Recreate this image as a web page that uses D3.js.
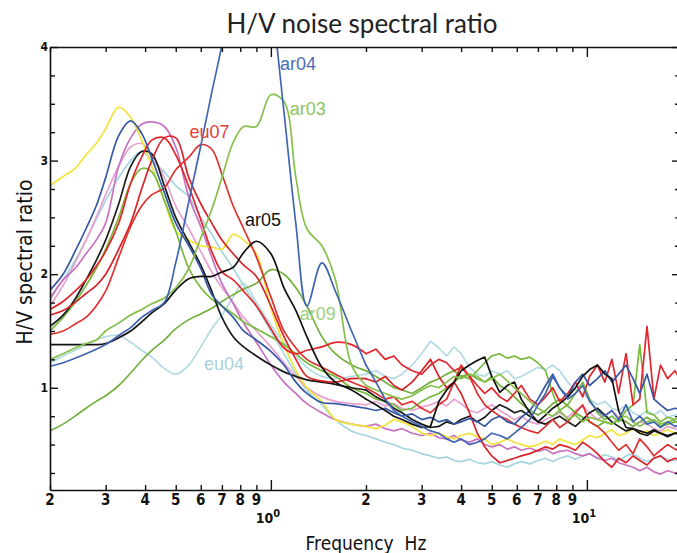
<!DOCTYPE html>
<html><head><meta charset="utf-8">
<script src="https://cdn.jsdelivr.net/npm/d3@7"></script>
<style>body{margin:0;background:#fff}svg{display:block}</style>
</head><body><svg id="c" width="677" height="553"></svg>
<script>
// ---------- data ----------
const freqs = [0.2,0.22,0.24,0.26,0.28,0.3,0.33,0.36,0.39,0.42,0.46,0.5,0.55,0.6,0.65,0.7,0.76,0.82,0.9,1.0,1.1,1.2,1.3,1.45,1.6,1.8,
  2.0,2.15,2.3,2.45,2.6,2.8,3.0,3.2,3.4,3.6,3.8,4.0,4.25,4.5,4.75,5.0,5.3,5.6,5.9,6.2,6.6,7.0,7.4,7.8,8.2,8.7,9.2,9.7,10.2,10.8,11.4,12.0,12.6,13.3,14.0,14.7,15.5,16.3,17.1,18.0,19.0,20.0];

const yellowVals = [2.78,2.86,2.93,3.05,3.15,3.28,3.47,3.38,3.18,2.95,2.65,2.38,2.3,2.25,2.24,2.22,2.35,2.3,2.18,1.7,1.38,1.15,1.0,0.88,0.72,0.68,
  0.66,0.64,0.67,0.72,0.7,0.66,0.6,0.58,0.6,0.57,0.55,0.58,0.6,0.57,0.55,0.5,0.52,0.55,0.52,0.5,0.48,0.5,0.53,0.5,0.55,0.52,0.5,0.54,0.58,0.56,0.6,0.63,0.58,0.6,0.64,0.6,0.62,0.58,0.6,0.63,0.6,0.6];
const blueAVals = [1.86,2.0,2.2,2.4,2.6,2.85,3.22,3.35,3.24,3.02,2.72,2.45,2.25,2.05,1.82,1.72,1.62,1.5,1.42,1.32,1.2,1.05,0.95,0.87,0.86,0.84,
  0.82,0.8,0.82,0.78,0.75,0.77,0.72,0.74,0.7,0.72,0.68,0.7,0.73,0.7,0.66,0.72,0.75,0.7,0.68,0.74,0.8,0.9,1.02,1.12,1.0,0.92,1.05,1.12,1.02,1.08,1.15,1.05,1.12,1.2,1.08,0.95,1.12,0.9,0.85,0.8,0.82,0.8];
const orchidVals = [1.78,1.95,2.05,2.18,2.3,2.45,2.95,3.2,3.32,3.34,3.3,3.12,2.68,2.42,2.15,1.92,1.74,1.57,1.4,1.2,1.05,0.95,0.86,0.78,0.72,0.68,
  0.66,0.68,0.64,0.62,0.64,0.6,0.58,0.6,0.56,0.55,0.58,0.54,0.52,0.55,0.5,0.48,0.5,0.46,0.48,0.45,0.47,0.44,0.46,0.42,0.44,0.45,0.42,0.4,0.42,0.38,0.36,0.38,0.34,0.32,0.3,0.27,0.3,0.26,0.24,0.27,0.25,0.26];
const pinkVals = [1.72,1.9,2.1,2.3,2.5,2.7,2.95,3.12,3.15,3.05,2.85,2.6,2.4,2.2,2.02,1.88,1.75,1.62,1.5,1.36,1.22,1.1,1.0,0.92,0.88,0.86,
  0.85,0.88,0.84,0.86,0.82,0.8,0.83,0.85,0.88,0.84,0.9,0.86,0.8,0.78,0.82,0.85,0.8,0.76,0.72,0.75,0.7,0.68,0.72,0.75,0.78,0.74,0.8,0.84,0.78,0.72,0.76,0.8,0.74,0.7,0.66,0.7,0.68,0.64,0.62,0.66,0.64,0.62];
const paleBlueVals = [1.8,1.95,2.12,2.3,2.48,2.65,2.85,3.0,3.08,3.0,2.9,2.78,2.68,2.5,2.35,2.2,2.05,1.9,1.72,1.5,1.3,1.12,0.98,0.85,0.72,0.62,
  0.58,0.55,0.52,0.5,0.47,0.45,0.42,0.4,0.38,0.39,0.36,0.35,0.37,0.34,0.33,0.35,0.32,0.3,0.33,0.35,0.33,0.36,0.38,0.35,0.38,0.4,0.37,0.4,0.42,0.38,0.41,0.39,0.36,0.4,0.42,0.38,0.35,0.38,0.4,0.37,0.36,0.38];
const blackAVals = [1.54,1.64,1.78,1.95,2.12,2.3,2.62,2.95,3.08,3.06,2.78,2.5,2.28,2.08,1.85,1.62,1.45,1.36,1.28,1.2,1.14,1.1,1.07,1.05,1.03,1.0,
  0.98,0.92,0.88,0.82,0.78,0.72,0.68,0.65,0.66,0.7,0.68,0.72,0.75,0.7,0.74,0.8,0.85,0.82,0.78,0.8,0.75,0.7,0.68,0.72,0.75,0.7,0.66,0.72,0.78,0.82,0.76,0.7,0.66,0.62,0.64,0.6,0.58,0.62,0.6,0.57,0.6,0.58];
const greenAVals = [1.5,1.62,1.75,1.9,2.05,2.22,2.5,2.8,2.93,2.9,2.65,2.38,2.05,1.88,1.78,1.72,1.65,1.58,1.52,1.45,1.38,1.3,1.22,1.15,1.1,1.0,
  0.95,0.9,0.88,0.85,0.8,0.82,0.88,0.92,0.95,1.0,1.05,1.1,1.08,1.15,1.22,1.28,1.3,1.26,1.28,1.25,1.27,1.22,1.15,0.95,0.8,0.85,0.95,1.05,0.9,0.78,0.72,0.75,0.7,0.8,0.85,1.38,0.78,0.76,0.7,0.74,0.72,0.75];
const redAVals = [1.69,1.76,1.85,1.95,2.07,2.2,2.45,2.8,3.03,3.18,3.2,3.05,2.77,2.48,2.2,2.02,1.95,1.85,1.72,1.52,1.35,1.3,1.33,1.36,1.4,1.38,
  1.3,1.34,1.25,1.28,1.2,1.15,1.12,1.2,1.25,1.22,1.15,1.18,1.1,1.02,0.95,1.0,0.92,0.88,0.95,1.02,0.9,0.85,0.92,1.0,0.88,0.95,1.05,0.92,1.1,1.2,1.05,1.25,0.95,1.3,0.85,0.9,1.54,0.9,1.2,1.08,1.15,1.05];
const redBVals = [1.64,1.68,1.75,1.83,1.9,2.0,2.22,2.45,2.75,3.0,3.2,3.2,2.85,2.62,2.45,2.3,2.18,2.08,1.98,1.72,1.45,1.25,1.1,1.06,1.05,1.08,
  1.08,1.05,1.1,1.02,0.98,1.05,1.15,1.25,1.1,1.0,1.05,0.95,0.78,0.6,0.48,0.4,0.34,0.36,0.38,0.4,0.42,0.45,0.48,0.46,0.5,0.48,0.45,0.52,0.48,0.42,0.35,0.3,0.38,0.34,0.4,0.36,0.32,0.38,0.4,0.35,0.38,0.36];
const eu07Vals = [1.47,1.5,1.56,1.62,1.72,1.85,2.15,2.42,2.6,2.7,2.76,2.92,3.03,3.14,3.1,2.88,2.6,2.4,2.15,1.8,1.5,1.35,1.25,1.18,1.12,1.05,
  1.0,0.95,0.9,0.92,0.85,0.88,0.82,0.78,0.85,0.9,1.05,1.2,1.1,0.95,0.85,0.8,0.75,0.72,0.68,0.65,0.62,0.6,0.66,0.72,0.65,0.7,0.78,0.85,0.7,0.66,0.6,0.52,0.45,0.5,0.42,0.55,0.48,0.4,0.45,0.5,0.46,0.44];
const ar04Vals = [1.19,1.22,1.26,1.3,1.34,1.38,1.46,1.53,1.62,1.68,1.75,2.1,2.64,3.13,3.6,4.02,4.6,5.2,5.4,4.48,3.43,2.44,1.72,2.1,1.85,1.5,
  1.2,1.05,0.9,0.8,0.75,0.7,0.66,0.62,0.6,0.55,0.52,0.55,0.5,0.52,0.55,0.6,0.58,0.55,0.6,0.65,0.72,0.85,0.95,1.1,1.0,0.9,0.95,1.02,0.88,0.8,0.75,0.8,0.72,0.85,0.7,0.75,0.68,0.7,0.65,0.7,0.66,0.68];
const ar03Vals = [1.25,1.3,1.35,1.39,1.42,1.5,1.57,1.64,1.69,1.74,1.79,1.88,2.05,2.32,2.57,2.85,3.16,3.3,3.3,3.58,3.52,2.85,2.4,2.25,1.95,1.2,
  1.02,0.98,0.95,0.92,0.9,0.93,0.98,1.02,1.0,1.05,1.1,1.08,1.12,1.1,1.05,1.08,1.12,1.06,1.0,0.95,0.88,0.82,0.78,0.75,0.8,0.72,0.76,0.7,0.74,0.72,0.7,0.68,0.72,0.75,0.7,0.66,0.7,0.72,0.68,0.7,0.72,0.74];
const ar05Vals = [1.38,1.38,1.38,1.38,1.38,1.39,1.44,1.5,1.58,1.66,1.74,1.86,1.96,1.98,1.98,2.02,2.06,2.19,2.29,2.18,1.88,1.68,1.45,1.18,1.05,0.98,
  0.9,0.85,0.8,0.75,0.72,0.68,0.65,0.66,0.88,0.98,1.05,1.15,1.2,1.24,1.27,1.1,0.96,1.02,1.05,0.9,0.78,0.7,0.76,0.82,0.86,0.92,1.0,1.1,1.16,1.2,1.12,1.08,0.8,0.65,0.64,0.62,0.6,0.63,0.6,0.58,0.6,0.6];
const eu04Vals = [1.22,1.28,1.33,1.38,1.42,1.45,1.46,1.4,1.33,1.27,1.17,1.12,1.2,1.36,1.52,1.64,1.8,1.92,1.75,1.55,1.4,1.28,1.18,1.1,1.08,1.1,
  1.12,1.15,1.1,1.08,1.12,1.2,1.3,1.41,1.35,1.28,1.36,1.3,1.18,1.12,1.1,1.15,1.12,1.15,1.08,1.1,1.14,1.18,1.16,1.2,1.15,1.05,0.98,0.95,0.9,0.85,0.88,0.82,0.8,0.85,0.78,0.75,0.8,0.76,0.8,0.74,0.76,0.75];
const ar09Vals = [0.62,0.68,0.75,0.82,0.88,0.93,1.02,1.13,1.24,1.33,1.42,1.52,1.6,1.65,1.7,1.76,1.82,1.87,1.92,2.04,2.0,1.88,1.72,1.45,1.3,1.2,
  1.15,1.1,1.05,1.0,0.98,0.95,1.0,1.05,1.08,1.12,1.15,1.1,1.12,1.08,1.05,1.1,1.02,0.98,0.92,0.86,0.8,0.76,0.8,0.86,0.9,0.84,0.78,0.74,0.7,0.66,0.7,0.68,0.72,0.7,0.66,0.7,0.74,0.7,0.66,0.68,0.7,0.7];

const seriesNames  = ['eu04','paleBlue','pink','orchid','yellow','greenA','ar09','blackA','redB','redA','eu07','blueA','ar05','ar03','ar04'];
const seriesValues = [eu04Vals,paleBlueVals,pinkVals,orchidVals,yellowVals,greenAVals,ar09Vals,blackAVals,redBVals,redAVals,eu07Vals,blueAVals,ar05Vals,ar03Vals,ar04Vals];
const seriesColors = ['#b3dbe3','#a6d5df','#e6a3cf','#c772c1','#f2e43a','#77bb3c','#72b03c','#1a1a1a','#d9242b','#e2262c','#e0302f','#3557a6','#111111','#86c04a','#4165b1'];

const labelTexts  = ['ar04','ar03','eu07','ar05','ar09','eu04'];
const labelFreqs  = [1.068,1.148,0.553,0.828,1.235,0.614];
const labelRatios = [3.8,3.4,3.2,2.42,1.6,1.16];
const labelColors = ['#4a6db5','#8ec45a','#e0413a','#111111','#9dcf7a','#a9d2da'];

const xTickValues = [0.2,0.3,0.4,0.5,0.6,0.7,0.8,0.9,1,2,3,4,5,6,7,8,9,10];
const xTickLabels = ['2','3','4','5','6','7','8','9','10^0','2','3','4','5','6','7','8','9','10^1'];
const yMajor = [1,2,3,4];
const yMinor = [0.25,0.5,0.75,1.25,1.5,1.75,2.25,2.5,2.75,3.25,3.5,3.75];
const smoothLimit = 2.0; // below this frequency the curves are smooth, above they are noisy

// ---------- drawing ----------
(function(){
const svg = d3.select('#c');
svg.append('rect').attr('width',677).attr('height',553).attr('fill','#fff');
const x = d3.scaleLog().domain([0.2,20]).range([50,682]);
const y = d3.scaleLinear().domain([0.1,4]).range([490,47]);

svg.append('defs').append('clipPath').attr('id','clip')
  .append('rect').attr('x',x(0.2)).attr('y',y(4)).attr('width',x(20)-x(0.2)).attr('height',y(0.1)-y(4));

const plot = svg.append('g').attr('clip-path','url(#clip)');
const smooth = d3.line().x(d=>x(d[0])).y(d=>y(d[1])).curve(d3.curveCatmullRom.alpha(0.5));
const jagged = d3.line().x(d=>x(d[0])).y(d=>y(d[1])).curve(d3.curveLinear);
seriesValues.forEach((vals,i)=>{
  const pts = freqs.map((f,j)=>[f,vals[j]]).filter(p=>p[1]!=null);
  const lo = pts.filter(p=>p[0]<=smoothLimit), hi = pts.filter(p=>p[0]>=smoothLimit);
  const g = plot.append('g').attr('fill','none').attr('stroke',seriesColors[i])
    .attr('stroke-width',1.7).attr('stroke-linejoin','round').attr('stroke-linecap','round');
  g.append('path').attr('d',smooth(lo));
  g.append('path').attr('d',jagged(hi));
});

// axes
const isDecade = v => Math.abs(Math.log10(v)-Math.round(Math.log10(v)))<1e-9;
const axStyle = g => { g.select('.domain').attr('stroke','#111').attr('stroke-width',1.6);
  g.selectAll('.tick line').attr('stroke','#111').attr('stroke-width',1.4); };

const axB = svg.append('g').attr('transform',`translate(0,${y(0.1)})`)
  .call(d3.axisBottom(x).tickValues(xTickValues).tickSizeInner(-5).tickSizeOuter(0).tickFormat(''));
axB.selectAll('.tick line').attr('y2',d=>isDecade(d)?-10:-5);
axStyle(axB);
const axT = svg.append('g').attr('transform',`translate(0,${y(4)})`)
  .call(d3.axisTop(x).tickValues(xTickValues).tickSizeInner(-5).tickSizeOuter(0).tickFormat(''));
axT.selectAll('.tick line').attr('y2',d=>isDecade(d)?10:5);
axStyle(axT);

const axL = svg.append('g').attr('transform',`translate(${x(0.2)},0)`)
  .call(d3.axisLeft(y).tickValues(yMinor.concat(yMajor)).tickSizeInner(-5).tickSizeOuter(0).tickFormat(''));
axL.selectAll('.tick line').attr('x2',d=>yMajor.includes(d)?8:5);
axStyle(axL);
const axR = svg.append('g').attr('transform',`translate(${x(20)},0)`)
  .call(d3.axisRight(y).tickValues(yMinor.concat(yMajor)).tickSizeInner(-7).tickSizeOuter(0).tickFormat(''));
axR.selectAll('.tick line').attr('x2',d=>yMajor.includes(d)?-10:-7);
axStyle(axR);

const tickFont = "'Liberation Sans Narrow','DejaVu Sans Condensed','Arial Narrow',sans-serif";
xTickValues.forEach((v,i)=>{
  const lab = xTickLabels[i];
  if (lab.includes('^')) {
    const parts = lab.split('^');
    const t = svg.append('text').attr('x',x(v)-3).attr('y',523).attr('text-anchor','middle')
      .attr('font-family',tickFont).attr('font-weight','bold').attr('font-size',14).attr('fill','#111');
    t.append('tspan').text(parts[0]);
    t.append('tspan').attr('dy',-6).attr('font-size',11).text(parts[1]);
  } else {
    svg.append('text').attr('x',x(v)).attr('y',505).attr('text-anchor','middle')
      .attr('font-family',tickFont).attr('font-weight','bold').attr('font-size',15).attr('fill','#111').text(lab);
  }
});
yMajor.forEach(v=>{
  svg.append('text').attr('x',48).attr('y',y(v)+4).attr('text-anchor','end')
    .attr('font-family',tickFont).attr('font-weight','bold').attr('font-size',12).attr('fill','#111').text(v);
});

labelTexts.forEach((t,i)=>{
  svg.append('text').attr('x',x(labelFreqs[i])).attr('y',y(labelRatios[i]))
    .attr('font-family',"'Liberation Sans',Arial,sans-serif").attr('font-size',18)
    .attr('fill',labelColors[i]).text(t);
});

svg.append('text').attr('x',362).attr('y',33).attr('text-anchor','middle')
  .attr('font-family',"Lato,'Open Sans',sans-serif").attr('font-weight',400).attr('font-size',26)
  .attr('fill','#222').text('H/V noise spectral ratio');
svg.append('text').attr('transform','translate(32,262) rotate(-90)').attr('text-anchor','middle')
  .attr('font-family',tickFont).attr('font-size',21).attr('fill','#111').text('H/V spectral ratio');
svg.append('text').attr('x',366).attr('y',550).attr('text-anchor','middle')
  .attr('font-family',tickFont).attr('font-size',19).attr('fill','#111').text('Frequency\u00a0\u00a0Hz');
})();
</script></body></html>
